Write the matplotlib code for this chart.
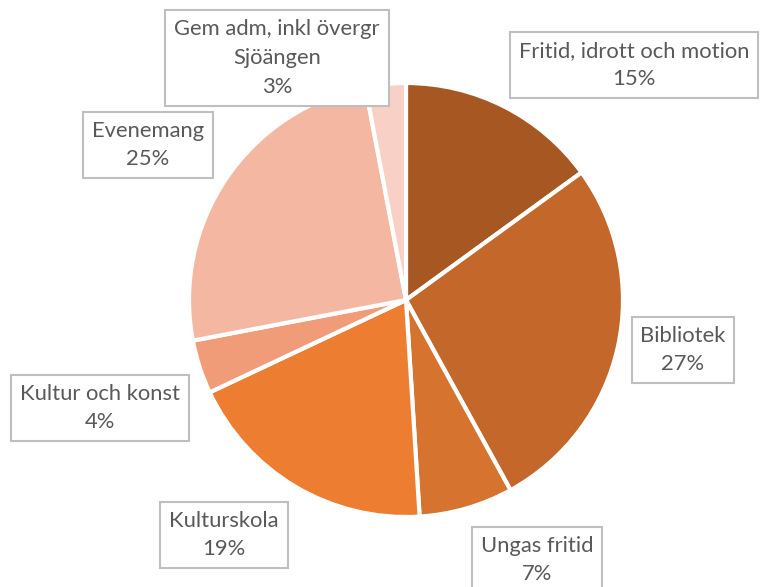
import matplotlib.pyplot as plt

# Data
kategorier = ['Fritid, idrott och motion', 'Bibliotek', 'Ungas fritid', 'Kulturskola',
              'Kultur och konst', 'Evenemang', 'Gem adm, inkl övergr\nSjöängen']
andelar = [15, 27, 7, 19, 4, 25, 3]
farger = ['#A65722', '#C4672A', '#D6732F', '#ED7D31', '#F09C78', '#F4B8A2', '#F8D0C6']

# label positions (pixel coords, y up)
etikett_pos = [(634, 522), (683, 237), (537, 27), (224, 52), (100, 179), (148, 442), (277, 529)]

fig = plt.figure(figsize=(7.6, 5.87), dpi=100)
ax = fig.add_axes([0, 0, 1, 1])

ax.pie(andelar, colors=farger, center=(406, 287), radius=217, startangle=90,
       counterclock=False, frame=True,
       wedgeprops=dict(edgecolor='white', linewidth=3))
ax.set_xlim(0, 760)
ax.set_ylim(0, 587)
ax.set_aspect('equal')
ax.axis('off')

for namn, v, (x, y) in zip(kategorier, andelar, etikett_pos):
    ax.text(x, y, f'{namn}\n{v}%', ha='center', va='center', fontsize=15.8,
            family='Lato', color='#595959', linespacing=1.55,
            bbox=dict(boxstyle='square,pad=0.4', facecolor='white',
                      edgecolor='#BFBFBF', linewidth=1.5))

fig.savefig('out.png', dpi=100)
